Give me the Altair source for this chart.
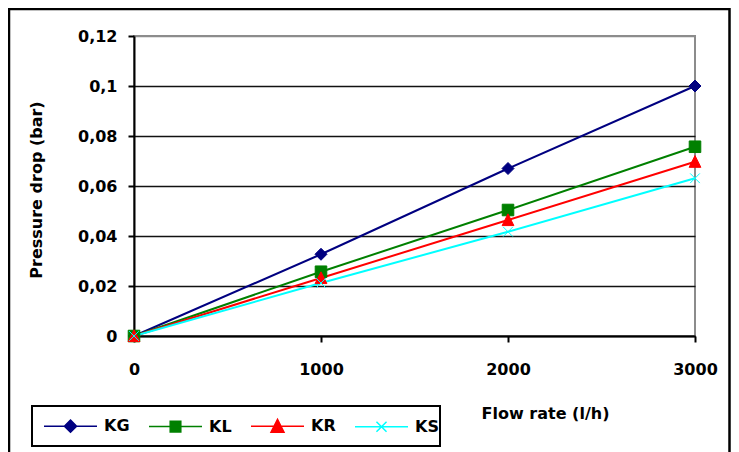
import altair as alt
import pandas as pd

flow = [0, 1000, 2000, 3000]
series_names = ["KG", "KL", "KR", "KS"]
kg = [0, 0.0327, 0.067, 0.1]
kl = [0, 0.0257, 0.0504, 0.0757]
kr = [0, 0.0232, 0.0464, 0.0697]
ks = [0, 0.0212, 0.0417, 0.0631]
colors = ["#000080", "#008000", "#FF0000", "#00FFFF"]
y_ticks = [0, 0.02, 0.04, 0.06, 0.08, 0.1, 0.12]
x_ticks = [0, 1000, 2000, 3000]

rows = []
for name, vals in zip(series_names, [kg, kl, kr, ks]):
    for f, v in zip(flow, vals):
        rows.append({"flow": f, "dp": v, "series": name})
df = pd.DataFrame(rows)

FONT = "DejaVu Sans"

point_shapes = [
    "diamond",
    "square",
    "M0,-1.1L1.05,1L-1.05,1Z",
    "M-0.9,-0.9L0.9,0.9M0.9,-0.9L-0.9,0.9",
]
point_sizes = [144, 115, 144, 100]
legend_shapes = [
    "M-1,0H1M0,-0.23L0.23,0L0,0.23L-0.23,0Z",
    "M-1,0H1M-0.2,-0.2H0.2V0.2H-0.2Z",
    "M-1,0H1M0,-0.26L0.245,0.22H-0.245Z",
    "M-1,0H1M-0.19,-0.19L0.19,0.19M0.19,-0.19L-0.19,0.19",
]

x_enc = alt.X(
    "flow:Q",
    scale=alt.Scale(domain=[0, 3000], nice=False),
    axis=alt.Axis(
        values=x_ticks, format="d", grid=False, title="Flow rate (l/h)",
        titleX=411, titleY=82, titleAlign="center", titleBaseline="alphabetic",
        tickSize=6, labelPadding=19, labelFlush=False, labelBaseline="top",
    ),
)
y_enc = alt.Y(
    "dp:Q",
    scale=alt.Scale(domain=[0, 0.12], nice=False),
    axis=alt.Axis(
        values=y_ticks,
        labelExpr="replace(format(datum.value, '~g'), '.', ',')",
        title="Pressure drop (bar)",
        titleX=-93, titleY=153.5, titleAngle=-90, titleAlign="center",
        titleBaseline="alphabetic",
        gridColor={"condition": {"test": "datum.value > 0.11", "value": "#8c8c8c"}, "value": "#111111"},
        gridWidth=1.6,
        tickSize=6, labelPadding=11, labelFlush=False,
    ),
)

color_scale = alt.Scale(domain=series_names, range=colors)

frame = alt.Chart(alt.Data(values=[{}])).mark_rect(
    fill="transparent", stroke="black", strokeWidth=2.5
).encode(x=alt.value(-125), x2=alt.value(595.5), y=alt.value(-27), y2=alt.value(440))

legend_box = alt.Chart(alt.Data(values=[{}])).mark_rect(
    fill="transparent", stroke="black", strokeWidth=2
).encode(x=alt.value(-102), x2=alt.value(306), y=alt.value(370), y2=alt.value(410))

lines = alt.Chart(df).mark_line(strokeWidth=2).encode(
    x=x_enc, y=y_enc,
    color=alt.Color("series:N", scale=color_scale, legend=None),
)

points = alt.Chart(df).mark_point(filled=True, opacity=1).encode(
    x=x_enc, y=y_enc,
    color=alt.Color("series:N", scale=color_scale, legend=None),
    stroke=alt.Stroke("series:N", scale=color_scale, legend=None),
    shape=alt.Shape("series:N", scale=alt.Scale(domain=series_names, range=point_shapes), legend=None),
    size=alt.Size("series:N", scale=alt.Scale(domain=series_names, range=point_sizes), legend=None),
    strokeWidth=alt.StrokeWidth("series:N", scale=alt.Scale(domain=series_names, range=[1, 1, 1, 2]), legend=None),
)

leg = alt.Legend(
    title=None, orient="none", direction="horizontal", columns=4,
    legendX=-91, legendY=362.5, padding=0,
    labelFont=FONT, labelFontSize=16, labelFontWeight="bold", labelColor="black",
    labelOffset=6, columnPadding=16, symbolSize=2809, symbolStrokeWidth=1.5,
    symbolOpacity=1,
)

legend_layer = alt.Chart(df).transform_filter("false").mark_point(
    filled=True, size=2809, opacity=1
).encode(
    x=x_enc, y=y_enc,
    color=alt.Color("series:N", scale=color_scale, legend=leg),
    stroke=alt.Stroke("series:N", scale=color_scale, legend=leg),
    shape=alt.Shape("series:N", scale=alt.Scale(domain=series_names, range=legend_shapes), legend=leg),
)

chart = alt.layer(frame, legend_box, lines, points, legend_layer).resolve_scale(
    color="independent", stroke="independent", shape="independent",
    strokeWidth="independent", size="independent"
).properties(
    width=561, height=300,
    padding={"left": 126, "top": 28, "right": 36, "bottom": 116},
    autosize=alt.AutoSizeParams(type="none"),
    background="white",
).configure_axis(
    labelFont=FONT, labelFontSize=16, labelFontWeight="bold", labelColor="black",
    titleFont=FONT, titleFontSize=16, titleFontWeight="bold", titleColor="black",
    domainColor="black", domainWidth=2, tickColor="black", tickWidth=2,
).configure_view(stroke="#8c8c8c", strokeWidth=2)

chart.save("out.html", embed_options={"renderer": "svg", "actions": False})
